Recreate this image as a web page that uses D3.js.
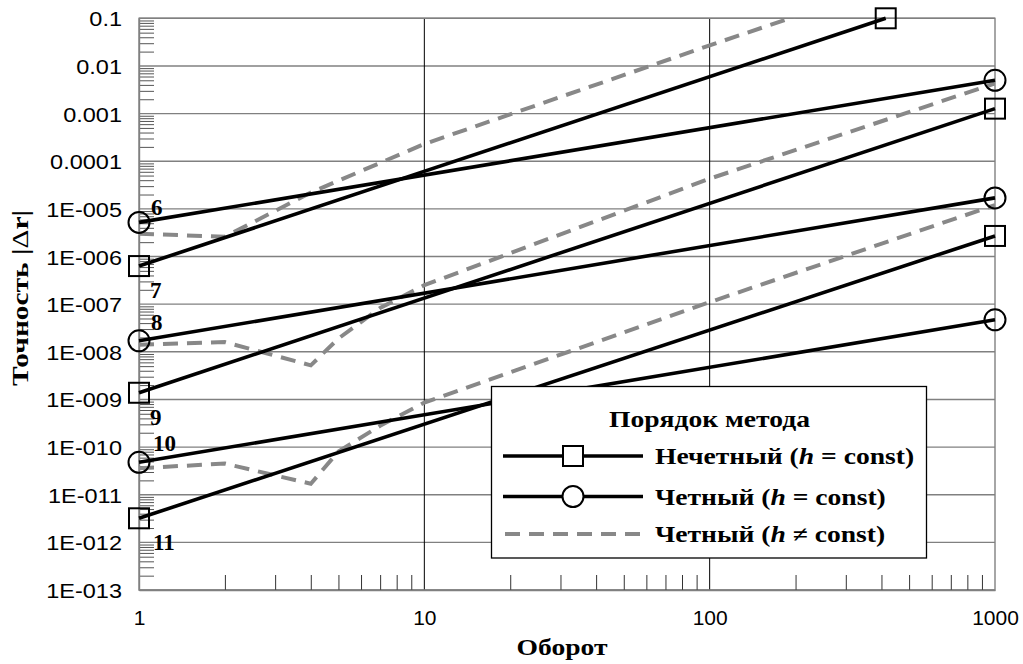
<!DOCTYPE html>
<html>
<head>
<meta charset="utf-8">
<script src="https://cdn.jsdelivr.net/npm/d3@7"></script>
<style>
  html, body { margin: 0; padding: 0; background: #fff; }
  svg { display: block; }
</style>
</head>
<body>
<svg id="chart" width="1023" height="664"></svg>
<script>
// ---------- data ----------
const xTickValues = [1, 10, 100, 1000];
const xTickLabels = ["1", "10", "100", "1000"];
const yTickValues = [1e-13, 1e-12, 1e-11, 1e-10, 1e-9, 1e-8, 1e-7, 1e-6, 1e-5, 1e-4, 1e-3, 1e-2, 1e-1];
const yTickLabels = ["1E-013", "1E-012", "1E-011", "1E-010", "1E-009", "1E-008", "1E-007", "1E-006", "1E-005", "0.0001", "0.001", "0.01", "0.1"];

// odd orders, h = const (squares)
const order7X = [1, 414];   const order7Y = [6.3e-7, 0.1];
const order9X = [1, 1000];  const order9Y = [1.38e-9, 1.27e-3];
const order11X = [1, 1000]; const order11Y = [3.2e-12, 2.7e-6];
// even orders, h = const (circles)
const order6X = [1, 1000];  const order6Y = [5.2e-6, 5.0e-3];
const order8X = [1, 1000];  const order8Y = [1.7e-8, 1.7e-5];
const order10X = [1, 1000]; const order10Y = [4.8e-11, 4.7e-8];
// even orders, h != const (dashed)
const varAX = [1, 2, 4, 10, 100, 200];
const varAY = [3.0e-6, 2.6e-6, 2.2e-5, 2.3e-4, 2.7e-2, 0.11];
const varBX = [1, 2, 4, 5, 7, 10, 100, 1000];
const varBY = [1.4e-8, 1.6e-8, 5.2e-9, 1.9e-8, 8.3e-8, 2.5e-7, 4.3e-5, 4.3e-3];
const varCX = [1, 2, 4, 5, 7, 10, 100, 1000];
const varCY = [3.6e-11, 4.5e-11, 1.7e-11, 8.1e-11, 2.8e-10, 8.6e-10, 1.1e-7, 1.2e-5];

const orderLabels = ["6", "7", "8", "9", "10", "11"];
const orderLabelY = [order6Y[0], order7Y[0], order8Y[0], order9Y[0], order10Y[0], order11Y[0]];

const legendTitle = "Порядок метода";
const legendNames = ["Нечетный (", "Четный (", "Четный ("];
const legendOps = [" = const)", " = const)", " \u2260 const)"];

// ---------- layout ----------
const svg = d3.select("#chart");
const L = 139, R = 995, T = 18.3, B = 590;
const x = d3.scaleLog().domain([1, 1000]).range([L, R]);
const y = d3.scaleLog().domain([1e-13, 0.1]).range([B, T]);

const serif = "'Liberation Serif', 'Times New Roman', serif";
const sans = "'Liberation Sans', Arial, sans-serif";
const gridGray = "#808080";
const SX = 1.2; // horizontal stretch of the original's serif text

function sText(parent, px, py, sx, size, anchor) {
  return parent.append("text")
    .attr("transform", `translate(${px},${py}) scale(${sx},1)`)
    .attr("text-anchor", anchor || "start")
    .attr("font-family", serif).attr("font-weight", "bold").attr("font-size", size);
}

// minor tick positions (2..9 in each decade)
const minorY = [];
for (let e = -13; e < -1; e++) for (let k = 2; k <= 9; k++) minorY.push(k * Math.pow(10, e));
const minorX = [];
for (let e = 0; e < 3; e++) for (let k = 2; k <= 9; k++) minorX.push(k * Math.pow(10, e));

// horizontal grid
svg.append("g").selectAll("line").data(yTickValues).join("line")
  .attr("x1", L).attr("x2", R).attr("y1", d => y(d)).attr("y2", d => y(d))
  .attr("stroke", gridGray).attr("stroke-width", 1.4);
// vertical grid
svg.append("g").selectAll("line").data([10, 100]).join("line")
  .attr("x1", d => x(d)).attr("x2", d => x(d)).attr("y1", T).attr("y2", B)
  .attr("stroke", "#000").attr("stroke-width", 1);

// frame
svg.append("rect").attr("x", L).attr("y", T).attr("width", R - L).attr("height", B - T)
  .attr("fill", "none").attr("stroke", gridGray).attr("stroke-width", 1.4);

// minor ticks
const yMinor = svg.append("g").attr("transform", `translate(${L},0)`)
  .call(d3.axisRight(y).tickValues(minorY).tickSize(15).tickFormat(""));
yMinor.select(".domain").remove();
yMinor.selectAll("line").attr("stroke", "#555").attr("stroke-width", 1);
const xMinor = svg.append("g").attr("transform", `translate(0,${B})`)
  .call(d3.axisTop(x).tickValues(minorX).tickSize(15).tickFormat(""));
xMinor.select(".domain").remove();
xMinor.selectAll("line").attr("stroke", "#333").attr("stroke-width", 1);

// major axes
const yAx = svg.append("g").attr("transform", `translate(${L},0)`)
  .call(d3.axisLeft(y).tickValues(yTickValues).tickFormat("").tickSize(0));
yAx.select(".domain").attr("stroke", gridGray).attr("stroke-width", 1.4);
yAx.selectAll(".tick").append("text")
  .attr("transform", "translate(-17,0) scale(1.12,1)")
  .attr("dy", "0.36em").attr("text-anchor", "end")
  .attr("font-family", sans).attr("font-size", 21).attr("fill", "#000")
  .text((d, i) => yTickLabels[i]);

const xAx = svg.append("g").attr("transform", `translate(0,${B})`)
  .call(d3.axisBottom(x).tickValues(xTickValues).tickFormat((d, i) => xTickLabels[i]).tickSize(0).tickPadding(20));
xAx.select(".domain").attr("stroke", gridGray).attr("stroke-width", 1.4);
xAx.selectAll("text").attr("font-family", sans).attr("font-size", 21).attr("fill", "#000");

// clip
svg.append("clipPath").attr("id", "plotClip").append("rect")
  .attr("x", L - 15).attr("y", T - 15).attr("width", R - L + 30).attr("height", B - T + 15);
svg.append("clipPath").attr("id", "dashClip").append("rect")
  .attr("x", L).attr("y", T).attr("width", R - L).attr("height", B - T);

const line = d3.line().x(d => x(d[0])).y(d => y(d[1]));
const zip = (xs, ys) => xs.map((v, i) => [v, ys[i]]);

// dashed series
const dashed = [zip(varAX, varAY), zip(varBX, varBY), zip(varCX, varCY)];
svg.append("g").attr("clip-path", "url(#dashClip)").selectAll("path").data(dashed).join("path")
  .attr("d", line).attr("fill", "none").attr("stroke", "#888888")
  .attr("stroke-width", 4).attr("stroke-dasharray", "15,9");

// solid series
const squares = [zip(order7X, order7Y), zip(order9X, order9Y), zip(order11X, order11Y)];
const circles = [zip(order6X, order6Y), zip(order8X, order8Y), zip(order10X, order10Y)];
const solidG = svg.append("g").attr("clip-path", "url(#plotClip)");
solidG.selectAll("path").data(squares.concat(circles)).join("path")
  .attr("d", line).attr("fill", "none").attr("stroke", "#000").attr("stroke-width", 3.6);

// markers
const sq = 20;
squares.forEach(s => {
  solidG.append("g").selectAll("rect").data(s).join("rect")
    .attr("x", d => x(d[0]) - sq / 2).attr("y", d => y(d[1]) - sq / 2)
    .attr("width", sq).attr("height", sq)
    .attr("fill", "none").attr("stroke", "#000").attr("stroke-width", 2);
});
circles.forEach(s => {
  solidG.append("g").selectAll("circle").data(s).join("circle")
    .attr("cx", d => x(d[0])).attr("cy", d => y(d[1])).attr("r", 10.5)
    .attr("fill", "none").attr("stroke", "#000").attr("stroke-width", 2);
});

// order labels
const labelDy = [-7, 32, -11, 32, -11, 32];
const labelDx = [12, 11, 12, 11, 14, 14];
svg.append("g").selectAll("text").data(orderLabels).join("text")
  .attr("x", (d, i) => x(1) + labelDx[i])
  .attr("y", (d, i) => y(orderLabelY[i]) + labelDy[i])
  .attr("font-family", serif).attr("font-weight", "bold").attr("font-size", 23)
  .text(d => d);

// axis titles
sText(svg, 562, 655, SX, 23, "middle").text("Оборот");
const yt = svg.append("text").attr("transform", "translate(28,298) rotate(-90) scale(1.28,1)").attr("text-anchor", "middle")
  .attr("font-family", serif).attr("font-weight", "bold").attr("font-size", 23);
yt.append("tspan").text("Точность |");
yt.append("tspan").attr("font-weight", "normal").text("\u0394");
yt.append("tspan").text("r|");

// legend
const lg = svg.append("g");
lg.append("rect").attr("x", 491.5).attr("y", 386.5).attr("width", 435).attr("height", 171.5)
  .attr("fill", "#fff").attr("stroke", "#000").attr("stroke-width", 1.3);
sText(lg, 709.5, 427, SX, 23, "middle").text(legendTitle);
const rowY = [456, 496.5, 534];
const lx1 = 503, lx2 = 643, mx = 573;
rowY.forEach((ry, i) => {
  const ln = lg.append("line").attr("x1", lx1).attr("x2", lx2).attr("y1", ry).attr("y2", ry);
  if (i < 2) ln.attr("stroke", "#000").attr("stroke-width", 3.6);
  else ln.attr("stroke", "#888888").attr("stroke-width", 4).attr("stroke-dasharray", "15,9").attr("x1", lx1 + 2);
  if (i === 0) lg.append("rect").attr("x", mx - sq / 2).attr("y", ry - sq / 2).attr("width", sq).attr("height", sq)
    .attr("fill", "#fff").attr("stroke", "#000").attr("stroke-width", 2);
  if (i === 1) lg.append("circle").attr("cx", mx).attr("cy", ry).attr("r", 10.5)
    .attr("fill", "#fff").attr("stroke", "#000").attr("stroke-width", 2);
  const t = sText(lg, 655, ry + 8, SX, 23, "start");
  t.append("tspan").text(legendNames[i]);
  t.append("tspan").attr("font-style", "italic").text("h");
  t.append("tspan").text(legendOps[i]);
});
</script>
</body>
</html>
